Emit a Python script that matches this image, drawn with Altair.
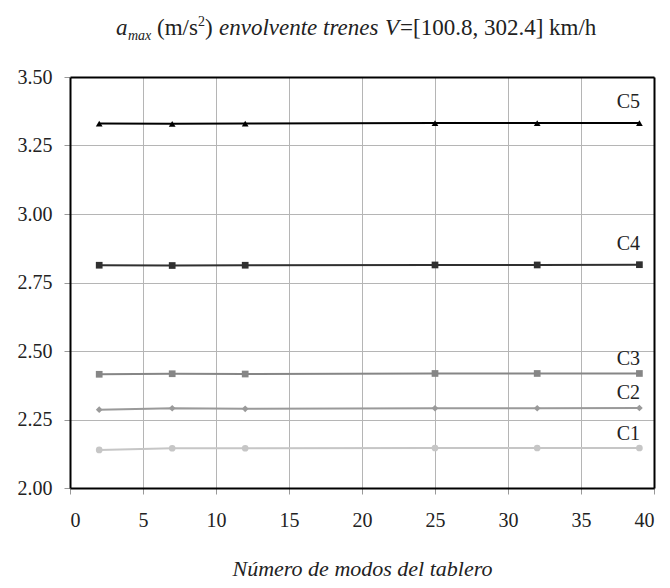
import altair as alt
import pandas as pd

modes = [2, 7, 12, 25, 32, 39]
series = ["C1", "C2", "C3", "C4", "C5"]
c1 = [2.139, 2.145, 2.145, 2.146, 2.146, 2.146]
c2 = [2.286, 2.291, 2.289, 2.291, 2.291, 2.292]
c3 = [2.415, 2.417, 2.416, 2.418, 2.418, 2.418]
c4 = [2.813, 2.812, 2.813, 2.814, 2.814, 2.815]
c5 = [3.330, 3.329, 3.330, 3.332, 3.332, 3.332]
x_ticks = [0, 5, 10, 15, 20, 25, 30, 35, 40]
y_ticks = [2.00, 2.25, 2.50, 2.75, 3.00, 3.25, 3.50]

rows = []
for name, vals in zip(series, [c1, c2, c3, c4, c5]):
    for m, v in zip(modes, vals):
        rows.append({"serie": name, "modos": m, "amax": v})
df = pd.DataFrame(rows)

colors = ["#c6c6c6", "#9a9a9a", "#868686", "#303030", "#000000"]
shapes = ["circle", "diamond", "square", "square", "triangle-up"]
sizes = [45, 45, 55, 15, 150]
label_dy = [-14, -15, -14, -21, -21]

FONT = "'Liberation Serif', 'Times New Roman', 'DejaVu Serif', serif"

xs = alt.Scale(domain=[0, 40], nice=False)
ys = alt.Scale(domain=[2.0, 3.5], nice=False, zero=False)
col = alt.Color("serie:N", scale=alt.Scale(domain=series, range=colors), legend=None)

x_main = alt.X("modos:Q", scale=xs, axis=alt.Axis(
    values=x_ticks, grid=False, domain=True, domainColor="black", domainWidth=2,
    ticks=True, tickSize=6, tickColor="#999999", labelFontSize=20, labelFont=FONT,
    labelColor="#222222", labelPadding=16, title="Número de modos del tablero",
    titleFont=FONT, titleFontSize=22, titleFontStyle="italic", titleFontWeight="normal",
    titleColor="#222222", titlePadding=28))
y_main = alt.Y("amax:Q", scale=ys, axis=alt.Axis(
    values=y_ticks, format=".2f", grid=False, domain=True, domainColor="black",
    domainWidth=2, ticks=True, tickSize=6, tickColor="#999999", labelFontSize=20,
    labelFont=FONT, labelColor="#222222", labelPadding=12, title=None))

x_grid = alt.X("modos:Q", scale=xs, axis=alt.Axis(
    orient="top", values=x_ticks, grid=True, gridColor="#b5b5b5", gridWidth=1,
    labels=False, ticks=False, domain=True, domainColor="black", domainWidth=2, title=None))
y_grid = alt.Y("amax:Q", scale=ys, axis=alt.Axis(
    orient="right", values=y_ticks, grid=True, gridColor="#b5b5b5", gridWidth=1,
    labels=False, ticks=False, domain=True, domainColor="black", domainWidth=2, title=None))

lines = alt.Chart(df).mark_line(strokeWidth=2).encode(x=x_main, y=y_main, color=col, detail="serie:N")
points = alt.Chart(df).mark_point(filled=True, opacity=1).encode(
    x=x_grid, y=y_grid, color=col,
    shape=alt.Shape("serie:N", scale=alt.Scale(domain=series, range=shapes), legend=None),
    size=alt.Size("serie:O", scale=alt.Scale(domain=series, range=sizes), legend=None),
)

layers = [lines, points]
for name, vals, dy in zip(series, [c1, c2, c3, c4, c5], label_dy):
    ldf = pd.DataFrame({"serie": [name], "modos": [modes[-1]], "amax": [vals[-1]]})
    layers.append(
        alt.Chart(ldf).mark_text(font=FONT, fontSize=20, color="#222222", dx=-11, dy=dy,
                                 baseline="middle", align="center")
        .encode(x=alt.X("modos:Q", scale=xs, axis=None),
                y=alt.Y("amax:Q", scale=ys, axis=None), text="serie:N")
    )

# title pieces: page coordinates (x, baseline y)
title_parts = [
    ("a", 116, 35, 23, "italic"),
    ("max", 128, 40, 14, "italic"),
    ("(m/s", 157, 35, 23, "normal"),
    ("2", 198, 26, 14, "normal"),
    (")", 205, 35, 23, "normal"),
    ("envolvente trenes", 219, 35, 23, "italic"),
    ("V", 385, 35, 23, "italic"),
    ("=[100.8, 302.4] km/h", 400, 35, 23, "normal"),
]
one = pd.DataFrame({"k": [0]})
for txt, px, py, fs, st in title_parts:
    layers.append(
        alt.Chart(one).mark_text(text=txt, font=FONT, fontSize=fs, fontStyle=st,
                                 align="left", baseline="alphabetic", color="#222222")
        .encode(x=alt.value(px - 70), y=alt.value(py - 77))
    )

chart = alt.layer(*layers).resolve_axis(x="independent", y="independent").properties(
    width=584, height=411,
    padding={"left": 62, "top": 69, "right": 8, "bottom": 92},
    autosize=alt.AutoSizeParams(type="none"),
).configure_view(stroke=None)

chart.save("out.html", embed_options={"renderer": "svg", "actions": False})
